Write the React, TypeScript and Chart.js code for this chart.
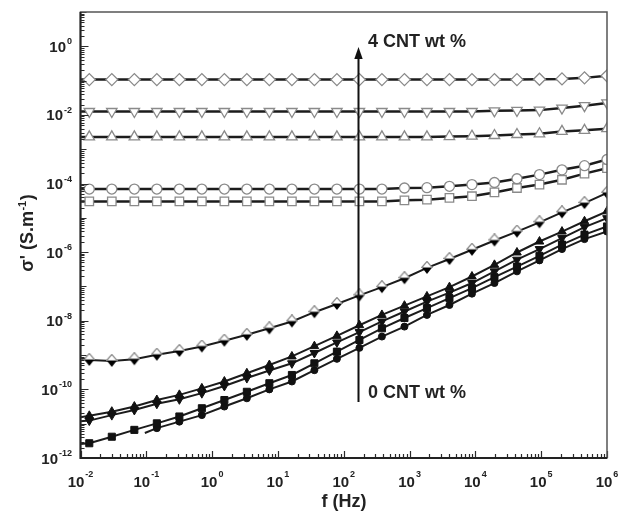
import React, { useEffect, useRef } from "react";
import { Chart, registerables } from "chart.js";

Chart.register(...registerables);

// Frequencies (Hz); index 0 is the line start at 0.01 Hz (no marker)
const FREQ = [0.01, 0.0136, 0.0299, 0.0658, 0.1445, 0.318, 0.698, 1.535, 3.37, 7.41, 16.3, 35.8, 78.7, 173, 380, 836, 1837, 4036, 8872, 19500, 42850, 94190, 207000, 455000, 1000000];

// log10 of sigma' (S/m)
const DIAMOND_LOG = [-0.97, -0.97, -0.97, -0.97, -0.97, -0.97, -0.97, -0.97, -0.97, -0.97, -0.97, -0.97, -0.97, -0.97, -0.97, -0.97, -0.97, -0.97, -0.97, -0.97, -0.97, -0.96, -0.95, -0.92, -0.86];
const DOWNTRI_LOG = [-1.9, -1.9, -1.9, -1.9, -1.9, -1.9, -1.9, -1.9, -1.9, -1.9, -1.9, -1.9, -1.9, -1.9, -1.9, -1.9, -1.9, -1.9, -1.9, -1.88, -1.87, -1.86, -1.8, -1.73, -1.65];
const UPTRI_LOG = [-2.64, -2.64, -2.64, -2.64, -2.64, -2.64, -2.64, -2.64, -2.64, -2.64, -2.64, -2.64, -2.64, -2.64, -2.64, -2.64, -2.64, -2.63, -2.62, -2.6, -2.57, -2.55, -2.48, -2.45, -2.4];
const CIRCLE_LOG = [-4.16, -4.16, -4.16, -4.16, -4.16, -4.16, -4.16, -4.16, -4.16, -4.16, -4.16, -4.16, -4.16, -4.16, -4.16, -4.13, -4.12, -4.08, -4.03, -3.97, -3.86, -3.74, -3.6, -3.48, -3.3];
const SQUARE_LOG = [-4.52, -4.52, -4.52, -4.52, -4.52, -4.52, -4.52, -4.52, -4.52, -4.52, -4.52, -4.52, -4.52, -4.52, -4.52, -4.49, -4.47, -4.42, -4.37, -4.26, -4.13, -4.03, -3.89, -3.71, -3.55];
const HALFDIAMOND_LOG = [-9.09, -9.14, -9.17, -9.12, -8.99, -8.88, -8.75, -8.58, -8.41, -8.22, -8.02, -7.75, -7.51, -7.26, -7.02, -6.76, -6.46, -6.2, -5.93, -5.66, -5.4, -5.13, -4.84, -4.57, -4.27];
const FILLTRI_UP_LOG = [-10.81, -10.77, -10.65, -10.5, -10.31, -10.16, -9.97, -9.77, -9.53, -9.29, -9.04, -8.74, -8.44, -8.13, -7.83, -7.56, -7.29, -7.02, -6.71, -6.37, -6.01, -5.69, -5.4, -5.1, -4.81];
const FILLTRI_DOWN_LOG = [-10.93, -10.91, -10.75, -10.6, -10.42, -10.29, -10.11, -9.9, -9.67, -9.45, -9.24, -8.94, -8.63, -8.33, -8.02, -7.73, -7.44, -7.18, -6.9, -6.56, -6.22, -5.91, -5.59, -5.27, -5.01];
const FILLSQUARE_LOG = [-11.59, -11.57, -11.38, -11.18, -10.99, -10.79, -10.55, -10.31, -10.07, -9.82, -9.58, -9.24, -8.9, -8.56, -8.22, -7.92, -7.63, -7.34, -7.05, -6.73, -6.42, -6.11, -5.78, -5.49, -5.25];
// this series starts at ~0.095 Hz
const FILLCIRCLE_FREQ = [0.095, ...FREQ.slice(4)];
const FILLCIRCLE_LOG = [-11.27, -11.13, -10.94, -10.75, -10.5, -10.26, -10.0, -9.77, -9.44, -9.11, -8.79, -8.46, -8.17, -7.83, -7.54, -7.21, -6.9, -6.56, -6.24, -5.91, -5.62, -5.4];

const X_DECADES = [-2, -1, 0, 1, 2, 3, 4, 5, 6];
const Y_LABEL_DECADES = [0, -2, -4, -6, -8, -10, -12];

const FONT = "'Liberation Sans', Arial, Helvetica, sans-serif";
const LINE = "#1c1c1c";
const OPEN_EDGE = "#8a8a8a";

function makeHalfDiamond(): HTMLCanvasElement {
  const c = document.createElement("canvas");
  c.width = 12;
  c.height = 14;
  const g = c.getContext("2d")!;
  const cx = 6, cy = 6.5, hw = 5.2, hh = 6;
  g.beginPath();
  g.moveTo(cx - hw, cy);
  g.lineTo(cx + hw, cy);
  g.lineTo(cx, cy + hh + 0.5);
  g.closePath();
  g.fillStyle = "#000";
  g.fill();
  g.beginPath();
  g.moveTo(cx - hw, cy);
  g.lineTo(cx, cy - hh);
  g.lineTo(cx + hw, cy);
  g.closePath();
  g.fillStyle = "#fff";
  g.fill();
  g.strokeStyle = "#8a8a8a";
  g.lineWidth = 1.2;
  g.stroke();
  return c;
}

function series(freq: number[], logs: number[]) {
  return freq.map((f, i) => ({ x: f, y: Math.pow(10, logs[i]) }));
}

const decorPlugin = {
  id: "decor",
  afterDraw(chart: any) {
    const { ctx, chartArea: a, scales } = chart;
    const xs = scales.x;
    const ys = scales.y;
    ctx.save();
    // ticks (inward)
    ctx.strokeStyle = "#2a2a2a";
    ctx.lineWidth = 1.2;
    ctx.beginPath();
    for (let d = -2; d <= 6; d++) {
      for (let m = 1; m <= 9; m++) {
        if (d === 6 && m > 1) break;
        const px = Math.round(xs.getPixelForValue(m * Math.pow(10, d))) + 0.5;
        const len = m === 1 ? 7 : 4;
        ctx.moveTo(px, a.bottom);
        ctx.lineTo(px, a.bottom - len);
      }
    }
    for (let d = -12; d <= 1; d++) {
      for (let m = 1; m <= 9; m++) {
        if (d === 1 && m > 1) break;
        const py = Math.round(ys.getPixelForValue(m * Math.pow(10, d))) + 0.5;
        const len = m === 1 ? (d % 2 === 0 ? 8 : 6) : 4;
        ctx.moveTo(a.left, py);
        ctx.lineTo(a.left + len, py);
      }
    }
    ctx.stroke();

    // frame
    ctx.strokeStyle = "#555";
    ctx.lineWidth = 1.5;
    ctx.strokeRect(a.left, a.top, a.right - a.left, a.bottom - a.top);
    ctx.strokeStyle = "#222";
    ctx.lineWidth = 2;
    ctx.beginPath();
    ctx.moveTo(a.left, a.top);
    ctx.lineTo(a.left, a.bottom);
    ctx.lineTo(a.right, a.bottom);
    ctx.stroke();

    ctx.fillStyle = "#222";
    ctx.textBaseline = "alphabetic";
    ctx.textAlign = "left";
    const big = `bold 15px ${FONT}`;
    const small = `bold 9px ${FONT}`;

    // x tick labels
    for (const d of X_DECADES) {
      const px = xs.getPixelForValue(Math.pow(10, d));
      ctx.font = big;
      const w1 = ctx.measureText("10").width;
      ctx.font = small;
      const exp = String(d);
      const w2 = ctx.measureText(exp).width;
      const start = px - (w1 + w2 + 1) / 2;
      ctx.font = big;
      ctx.fillText("10", start, 487);
      ctx.font = small;
      ctx.fillText(exp, start + w1 + 1, 477);
    }
    // y tick labels
    for (const d of Y_LABEL_DECADES) {
      const py = ys.getPixelForValue(Math.pow(10, d));
      const exp = String(d);
      ctx.font = small;
      const w2 = ctx.measureText(exp).width;
      ctx.font = big;
      const w1 = ctx.measureText("10").width;
      const right = 72;
      ctx.fillText("10", right - w2 - 1 - w1, py + 5.5);
      ctx.font = small;
      ctx.fillText(exp, right - w2, py - 2);
    }

    // x title
    ctx.font = `bold 18px ${FONT}`;
    ctx.textAlign = "center";
    ctx.fillText("f (Hz)", 344, 507);

    // y title (rotated)
    ctx.save();
    ctx.translate(33, 233);
    ctx.rotate(-Math.PI / 2);
    ctx.textAlign = "left";
    const tf = `bold 18px ${FONT}`;
    const sf = `bold 11px ${FONT}`;
    ctx.font = tf;
    const p1 = "\u03c3' (S.m";
    const p3 = ")";
    const w1 = ctx.measureText(p1).width;
    const w3 = ctx.measureText(p3).width;
    ctx.font = sf;
    const p2 = "-1";
    const w2 = ctx.measureText(p2).width;
    let sx = -(w1 + w2 + w3 + 1) / 2;
    ctx.font = tf;
    ctx.fillText(p1, sx, 0);
    sx += w1 + 0.5;
    ctx.font = sf;
    ctx.fillText(p2, sx, -7);
    sx += w2 + 0.5;
    ctx.font = tf;
    ctx.fillText(p3, sx, 0);
    ctx.restore();

    // arrow
    ctx.strokeStyle = "#111";
    ctx.fillStyle = "#111";
    ctx.lineWidth = 2;
    ctx.beginPath();
    ctx.moveTo(358.5, 402);
    ctx.lineTo(358.5, 56);
    ctx.stroke();
    ctx.beginPath();
    ctx.moveTo(358.5, 47);
    ctx.lineTo(354.3, 59);
    ctx.lineTo(362.7, 59);
    ctx.closePath();
    ctx.fill();

    ctx.fillStyle = "#222";
    ctx.font = `bold 18px ${FONT}`;
    ctx.textAlign = "left";
    ctx.fillText("4 CNT wt %", 368, 47);
    ctx.fillText("0 CNT wt %", 368, 398);
    ctx.restore();
  },
};

export default function App() {
  const ref = useRef<HTMLCanvasElement | null>(null);
  useEffect(() => {
    if (!ref.current) return;
    const half = makeHalfDiamond();
    const noFirst = (r: number) => (c: any) => (c.dataIndex === 0 ? 0 : r);
    const openDs = (logs: number[], style: any, r: number, rot = 0) => ({
      data: series(FREQ, logs),
      borderColor: LINE,
      borderWidth: 2.5,
      pointStyle: style,
      pointRotation: rot,
      pointRadius: noFirst(r),
      pointBackgroundColor: "#ffffff",
      pointBorderColor: OPEN_EDGE,
      pointBorderWidth: 1.3,
      tension: 0,
    });
    const fillDs = (freq: number[], logs: number[], style: any, r: number, rot = 0) => ({
      data: series(freq, logs),
      borderColor: LINE,
      borderWidth: 2,
      pointStyle: style,
      pointRotation: rot,
      pointRadius: noFirst(r),
      pointBackgroundColor: "#111",
      pointBorderColor: "#111",
      pointBorderWidth: 1,
      tension: 0,
    });
    const zeroW = (s: any) => { s.width = 0; };
    const zeroH = (s: any) => { s.height = 0; };
    const chart = new Chart(ref.current, {
      type: "line",
      data: {
        datasets: [
          openDs(DIAMOND_LOG, "rectRot", 6),
          openDs(DOWNTRI_LOG, "triangle", 6, 180),
          openDs(UPTRI_LOG, "triangle", 6),
          openDs(CIRCLE_LOG, "circle", 5),
          openDs(SQUARE_LOG, "rect", 6),
          {
            data: series(FREQ, HALFDIAMOND_LOG),
            borderColor: LINE,
            borderWidth: 2,
            pointStyle: half,
            pointRadius: noFirst(5),
            tension: 0,
          },
          fillDs(FREQ, FILLTRI_UP_LOG, "triangle", 5),
          fillDs(FREQ, FILLTRI_DOWN_LOG, "triangle", 5, 180),
          fillDs(FREQ, FILLSQUARE_LOG, "rect", 5),
          fillDs(FILLCIRCLE_FREQ, FILLCIRCLE_LOG, "circle", 3.5),
        ] as any,
      },
      options: {
        responsive: false,
        animation: false,
        layout: { padding: { left: 80.5, right: 18, top: 12, bottom: 57 } },
        plugins: { legend: { display: false }, tooltip: { enabled: false } },
        scales: {
          x: {
            type: "logarithmic",
            min: 0.01,
            max: 1e6,
            ticks: { display: false },
            grid: { display: false },
            border: { display: false },
            afterFit: zeroH,
          },
          y: {
            type: "logarithmic",
            min: 1e-12,
            max: 10,
            ticks: { display: false },
            grid: { display: false },
            border: { display: false },
            afterFit: zeroW,
          },
        },
      } as any,
      plugins: [decorPlugin],
    });
    return () => chart.destroy();
  }, []);
  return (
    <div style={{ position: "fixed", left: 0, top: 0, width: 625, height: 515, background: "#fff" }}>
      <canvas ref={ref} width={625} height={515} style={{ display: "block" }} />
    </div>
  );
}
